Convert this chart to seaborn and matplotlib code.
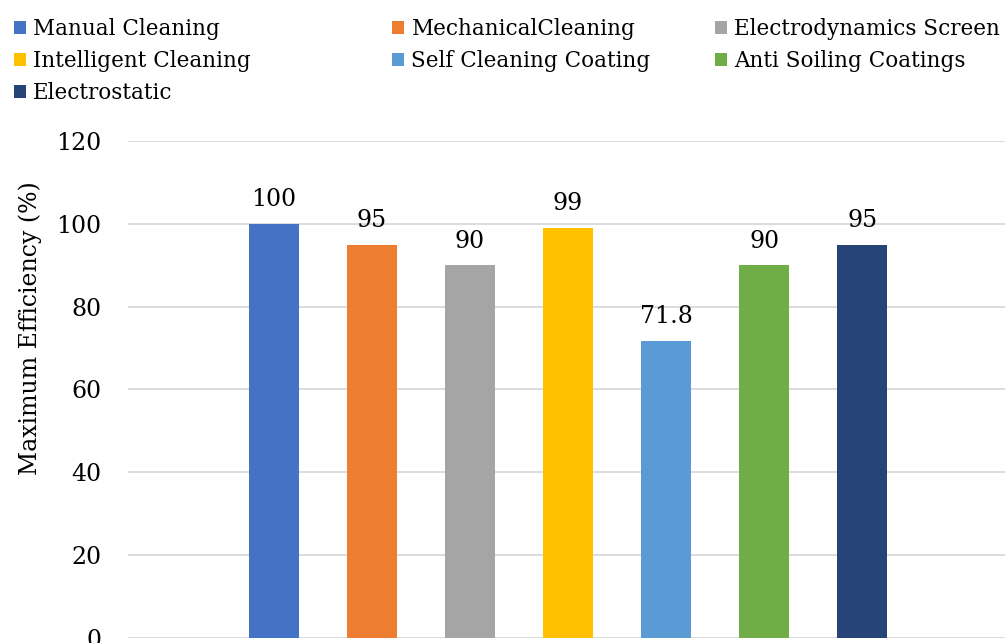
import pandas as pd
import matplotlib
matplotlib.use("Agg")
import matplotlib.pyplot as plt
import seaborn as sns

# values
METHODS = ["Manual Cleaning", "MechanicalCleaning", "Electrodynamics Screen",
           "Intelligent Cleaning", "Self Cleaning Coating", "Anti Soiling Coatings",
           "Electrostatic"]
EFFICIENCY = [100, 95, 90, 99, 71.8, 90, 95]
COLORS = ["#4472C4", "#ED7D31", "#A5A5A5", "#FFC000", "#5B9BD5", "#70AD47", "#264478"]
Y_TICKS = [0, 20, 40, 60, 80, 100, 120]

sns.set_style("white")
plt.rcParams["font.family"] = ["DejaVu Serif"]
plt.rcParams["text.color"] = "black"
plt.rcParams["ytick.color"] = "black"
FS = 17
LEG_FS = 15.5

W, H = 1005, 643
fig = plt.figure(figsize=(W / 100, H / 100), dpi=100)
fig.patch.set_facecolor("white")
# plot area: left edge 128px, 120 at y=141px, 0 at y=638px (bottom is cropped in the reference)
ax = fig.add_axes([128 / W, 5 / H, 880 / W, 497 / H])

df = pd.DataFrame({"group": [""] * len(METHODS), "method": METHODS, "value": EFFICIENCY})
sns.barplot(data=df, x="group", y="value", hue="method", hue_order=METHODS,
            palette=COLORS, saturation=1, width=0.78, gap=0.49, linewidth=0, ax=ax)

for c in ax.containers:
    ax.bar_label(c, fmt="%g", padding=9, fontsize=FS, color="black")

ax.set_ylim(0, 120)
ax.set_xlim(-0.5, 0.5)
ax.set_yticks(Y_TICKS)
ax.set_xticks([])
ax.set_xlabel("")
ax.set_ylabel("")
ax.tick_params(axis="y", length=0, pad=19, labelsize=FS, labelcolor="black")
ax.grid(True, axis="y", color="#D9D9D9", linewidth=1.3)
ax.set_axisbelow(True)
for s in ax.spines.values():
    s.set_visible(False)

fig.text(30 / W, 1 - 328 / H, "Maximum Efficiency (%)", rotation=90,
         ha="center", va="center", fontsize=FS, color="black")

handles, labels = ax.get_legend_handles_labels()
ax.get_legend().remove()

# legend laid out row by row in three fixed columns, like the reference
col_x = [14, 392, 715]
for col in range(3):
    idx = list(range(col, len(METHODS), 3))
    fig.legend([handles[i] for i in idx], [labels[i] for i in idx],
               loc="upper left", bbox_to_anchor=(col_x[col] / W, 1 - 18 / H),
               frameon=False, fontsize=LEG_FS, borderpad=0, borderaxespad=0,
               handlelength=0.55, handleheight=0.55, handletextpad=0.35,
               labelspacing=0.46, labelcolor="black")

fig.savefig("out.png", dpi=100)
